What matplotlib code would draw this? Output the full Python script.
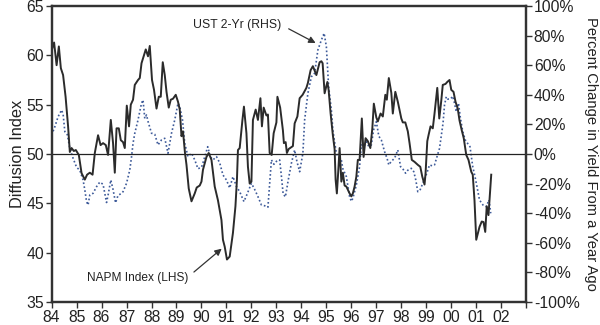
import matplotlib
matplotlib.use("Agg")
import matplotlib.pyplot as plt
from matplotlib.ticker import FuncFormatter, FixedLocator

plt.rcParams['font.family'] = ['Liberation Sans', 'DejaVu Sans']

# NAPM Index (LHS) - decimal year, diffusion index
napm_year = [1984.00, 1984.10, 1984.20, 1984.29, 1984.37, 1984.46, 1984.56, 1984.66, 1984.73, 1984.80,
             1984.89, 1984.97, 1985.09, 1985.20, 1985.33, 1985.42, 1985.53, 1985.64, 1985.73, 1985.86,
             1985.96, 1986.06, 1986.17, 1986.26, 1986.37, 1986.46, 1986.53, 1986.60, 1986.69, 1986.77,
             1986.86, 1986.93, 1987.01, 1987.10, 1987.17, 1987.26, 1987.33, 1987.46, 1987.53, 1987.60,
             1987.77, 1987.86, 1987.93, 1988.02, 1988.10, 1988.20, 1988.29, 1988.37, 1988.45, 1988.53,
             1988.60, 1988.69, 1988.77, 1988.86, 1988.97, 1989.06, 1989.13, 1989.20, 1989.26, 1989.34,
             1989.40, 1989.49, 1989.60, 1989.73, 1989.81, 1989.93, 1990.00, 1990.06, 1990.20, 1990.29,
             1990.40, 1990.53, 1990.66, 1990.80, 1990.86, 1990.93, 1991.02, 1991.13, 1991.26, 1991.36,
             1991.42, 1991.46, 1991.53, 1991.64, 1991.70, 1991.80, 1991.86, 1991.93, 1992.00, 1992.06,
             1992.17, 1992.26, 1992.36, 1992.42, 1992.49, 1992.60, 1992.66, 1992.73, 1992.81, 1992.89,
             1993.00, 1993.04, 1993.15, 1993.26, 1993.30, 1993.37, 1993.42, 1993.49, 1993.60, 1993.66,
             1993.73, 1993.84, 1993.93, 1994.05, 1994.20, 1994.26, 1994.37, 1994.46, 1994.60, 1994.73,
             1994.80, 1994.85, 1994.93, 1995.04, 1995.09, 1995.17, 1995.26, 1995.33, 1995.37, 1995.42,
             1995.47, 1995.53, 1995.60, 1995.66, 1995.73, 1995.80, 1995.93, 1996.00, 1996.06, 1996.13,
             1996.20, 1996.26, 1996.33, 1996.42, 1996.49, 1996.57, 1996.66, 1996.76, 1996.84, 1996.90,
             1997.00, 1997.06, 1997.17, 1997.26, 1997.36, 1997.42, 1997.50, 1997.60, 1997.66, 1997.76,
             1997.86, 1998.00, 1998.06, 1998.16, 1998.26, 1998.33, 1998.42, 1998.53, 1998.66, 1998.76,
             1998.84, 1998.93, 1998.97, 1999.04, 1999.09, 1999.17, 1999.26, 1999.33, 1999.44, 1999.52,
             1999.60, 1999.66, 1999.77, 1999.84, 1999.93, 2000.00, 2000.09, 2000.17, 2000.26, 2000.33,
             2000.42, 2000.50, 2000.60, 2000.69, 2000.80, 2000.86, 2000.93, 2001.00, 2001.13, 2001.22,
             2001.29, 2001.36, 2001.42, 2001.49, 2001.60]
napm_value = [60.5, 61.3, 59.0, 60.9, 58.7, 58.0, 55.8, 52.8, 50.2, 50.6,
              50.3, 50.4, 49.9, 48.05, 47.4, 47.9, 48.1, 47.9, 50.1, 51.9,
              50.9, 51.1, 50.9, 49.9, 53.45, 51.1, 48.1, 52.6, 52.6, 51.4,
              51.2, 50.6, 54.9, 52.8, 55.0, 55.5, 57.0, 57.5, 57.7, 59.2,
              60.6, 59.9, 60.95, 57.5, 56.5, 54.6, 55.8, 55.8, 59.3, 58.0,
              56.3, 54.7, 55.5, 55.6, 56.0, 55.3, 54.5, 51.8, 52.3, 50.1,
              48.9, 46.5, 45.2, 46.0, 46.6, 46.8, 47.2, 48.4, 49.7, 50.1,
              49.4, 46.7, 45.3, 43.3, 41.3, 40.6, 39.3, 39.6, 42.0, 44.7,
              47.4, 50.4, 50.6, 53.45, 54.8, 52.1, 48.7, 47.0, 47.2, 53.45,
              54.5, 53.45, 55.65, 52.8, 54.7, 53.9, 54.0, 50.1, 49.9, 52.1,
              53.2, 55.8, 54.7, 52.4, 51.1, 51.2, 50.1, 50.5, 50.7, 50.8,
              53.1, 53.8, 55.65, 56.0, 56.7, 57.2, 58.5, 58.9, 58.0, 59.3,
              59.4, 59.2, 56.15, 57.3, 56.5, 54.1, 51.9, 50.5, 47.4, 46.0,
              48.0, 50.6, 47.2, 48.1, 46.8, 46.7, 46.0, 45.7, 46.0, 46.7,
              47.7, 49.4, 49.4, 53.6, 49.7, 51.6, 51.3, 50.6, 52.6, 55.1,
              53.7, 53.3, 54.1, 53.8, 56.0, 55.5, 57.7, 56.2, 54.1, 56.3,
              55.3, 53.6, 53.2, 53.2, 52.3, 51.1, 49.4, 49.2, 48.9, 48.7,
              47.7, 46.9, 48.0, 51.3, 51.9, 52.8, 52.6, 54.1, 56.7, 53.6,
              55.4, 57.0, 57.1, 57.3, 57.5, 56.5, 56.3, 55.3, 54.6, 53.4,
              52.4, 51.6, 49.9, 49.4, 48.2, 47.9, 45.3, 41.3, 42.6, 43.15,
              43.1, 42.1, 44.7, 43.8, 47.9]

# UST 2-Yr (RHS) - decimal year, percent change in yield from a year ago
ust_year = [1984.00, 1984.13, 1984.26, 1984.40, 1984.46, 1984.53, 1984.63, 1984.73, 1984.86, 1985.00,
            1985.13, 1985.26, 1985.33, 1985.40, 1985.46, 1985.53, 1985.66, 1985.80, 1985.93, 1986.06,
            1986.20, 1986.27, 1986.37, 1986.46, 1986.56, 1986.66, 1986.80, 1986.86, 1987.00, 1987.13,
            1987.20, 1987.26, 1987.33, 1987.46, 1987.60, 1987.66, 1987.73, 1987.80, 1987.86, 1988.00,
            1988.13, 1988.26, 1988.40, 1988.53, 1988.66, 1988.80, 1988.93, 1989.06, 1989.13, 1989.24,
            1989.33, 1989.46, 1989.60, 1989.73, 1989.86, 1990.00, 1990.06, 1990.13, 1990.25, 1990.36,
            1990.46, 1990.60, 1990.73, 1990.86, 1991.00, 1991.13, 1991.26, 1991.40, 1991.53, 1991.70,
            1991.83, 1992.00, 1992.13, 1992.26, 1992.40, 1992.53, 1992.66, 1992.73, 1992.80, 1992.90,
            1993.00, 1993.13, 1993.20, 1993.27, 1993.36, 1993.47, 1993.60, 1993.73, 1993.82, 1993.93,
            1994.06, 1994.13, 1994.26, 1994.40, 1994.53, 1994.66, 1994.80, 1994.91, 1995.00, 1995.09,
            1995.20, 1995.26, 1995.33, 1995.40, 1995.47, 1995.60, 1995.66, 1995.80, 1995.93, 1996.00,
            1996.06, 1996.20, 1996.33, 1996.40, 1996.50, 1996.60, 1996.70, 1996.80, 1996.89, 1997.00,
            1997.10, 1997.20, 1997.33, 1997.43, 1997.50, 1997.60, 1997.73, 1997.86, 1997.97, 1998.06,
            1998.17, 1998.26, 1998.40, 1998.50, 1998.58, 1998.66, 1998.76, 1998.86, 1998.97, 1999.04,
            1999.13, 1999.23, 1999.33, 1999.43, 1999.53, 1999.60, 1999.67, 1999.73, 1999.80, 1999.87,
            1999.99, 2000.06, 2000.12, 2000.20, 2000.29, 2000.36, 2000.46, 2000.56, 2000.66, 2000.75,
            2000.86, 2000.95, 2001.03, 2001.13, 2001.27, 2001.40, 2001.51, 2001.58]
ust_pct = [12.8, 18.4, 25.2, 29.7, 27.0, 15.1, 13.0, 3.8, -2.9, -9.0,
           -11.0, -17.6, -24.3, -32.2, -34.5, -27.7, -26.6, -22.1, -19.0, -20.5,
           -32.8, -27.0, -17.6, -24.0, -33.0, -28.0, -26.6, -25.5, -19.8, -10.8,
           -2.0, 7.2, 14.0, 23.0, 34.3, 36.5, 24.0, 26.4, 22.0, 14.0,
           13.3, 6.1, 9.5, 10.6, 0.5, 14.0, 23.0, 34.3, 32.0, 23.0,
           7.2, -1.8, 0.5, -4.0, -10.0, -9.0, -6.0, -2.0, 4.9, -2.0,
           -4.0, -1.8, -6.0, -14.2, -17.6, -23.0, -15.3, -22.0, -25.5, -32.2,
           -27.0, -19.8, -24.0, -28.8, -34.5, -35.0, -36.0, -20.0, -4.0, -7.0,
           -5.0, -4.0, -15.0, -27.0, -29.0, -18.0, -6.3, 2.7, -5.0, -12.0,
           0.5, 23.0, 41.0, 52.2, 54.5, 70.3, 77.0, 81.6, 72.5, 45.5,
           29.7, 16.2, 8.0, 0.5, -2.0, -4.1, -10.0, -15.3, -28.8, -32.0,
           -30.0, -21.0, -8.6, 6.1, 5.0, 8.3, 5.0, 6.1, 16.2, 21.8,
           12.0, 9.5, 1.6, -3.0, -7.4, -5.0, -2.9, 2.7, -8.6, -10.0,
           -13.0, -11.0, -9.7, -12.0, -17.6, -25.5, -24.0, -19.8, -15.3, -12.0,
           -7.4, -8.0, -7.4, -1.8, 3.8, 12.0, 20.7, 33.1, 38.7, 37.0,
           37.6, 39.0, 35.0, 28.6, 34.3, 25.0, 15.1, 9.5, 7.0, 4.9,
           -8.6, -15.3, -22.1, -31.1, -34.5, -35.6, -31.1, -40.1]

year_ticks = list(range(1984, 2004))
year_labels = ["84", "85", "86", "87", "88", "89", "90", "91", "92", "93",
               "94", "95", "96", "97", "98", "99", "00", "01", "02", ""]
left_ticks = [35, 40, 45, 50, 55, 60, 65]
right_ticks = [-100, -80, -60, -40, -20, 0, 20, 40, 60, 80, 100]

fig = plt.figure(figsize=(6.0, 3.25), dpi=100)
ax = fig.add_axes([0.086, 0.071, 0.791, 0.9105])
ax2 = ax.twinx()

text_c = "#222222"
spine_c = "#333333"

ax2.plot(ust_year, ust_pct, color="#3d5a99", lw=1.2, linestyle=(0, (1.0, 1.4)))
ax.plot(napm_year, napm_value, color="#2b2b2b", lw=1.4)
ax.axhline(50, color="#222222", lw=0.9, zorder=1)

ax.set_zorder(ax2.get_zorder() + 1)
ax.patch.set_visible(False)

ax.set_xlim(1984, 2003)
ax.set_ylim(35, 65)
ax2.set_ylim(-100, 100)

ax.xaxis.set_major_locator(FixedLocator(year_ticks))
ax.set_xticklabels(year_labels)
ax.set_yticks(left_ticks)
ax2.set_yticks(right_ticks)
ax2.yaxis.set_major_formatter(FuncFormatter(lambda v, p: f"{int(v)}%"))

for a in (ax, ax2):
    for s in a.spines.values():
        s.set_color(spine_c)
        s.set_linewidth(1.6)
    a.tick_params(direction="out", length=4, width=1.0, color=spine_c,
                  labelsize=11.3, labelcolor=text_c, pad=1.5)

ax.set_ylabel("Diffusion Index", fontsize=11.8, color=text_c, labelpad=1)
ax2.set_ylabel("Percent Change in Yield From a Year Ago", fontsize=10.6,
               color=text_c, rotation=270, labelpad=13)

ax.annotate("UST 2-Yr (RHS)", xy=(1994.57, 61.25), xytext=(1989.65, 63.1),
            fontsize=8.8, color=text_c, va="center", ha="left",
            arrowprops=dict(arrowstyle="-|>", color="#333333", lw=0.9,
                            mutation_scale=10, shrinkA=4, shrinkB=0,
                            relpos=(1.0, 0.5)))
ax.annotate("NAPM Index (LHS)", xy=(1990.81, 40.4), xytext=(1985.4, 37.4),
            fontsize=8.6, color=text_c, va="center", ha="left",
            arrowprops=dict(arrowstyle="-|>", color="#333333", lw=0.9,
                            mutation_scale=10, shrinkA=3, shrinkB=0,
                            relpos=(1.0, 0.6)))

fig.savefig("out.png", dpi=100)
